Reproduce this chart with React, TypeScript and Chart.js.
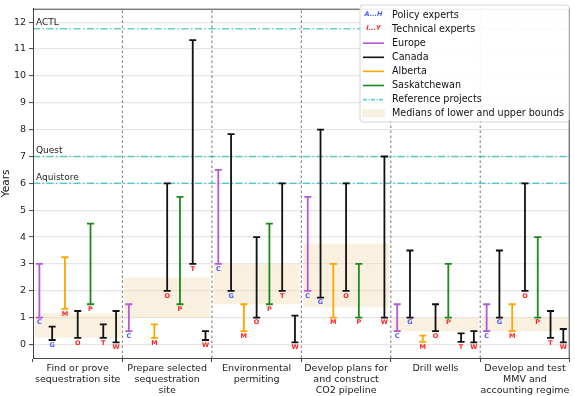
import React, { useEffect, useRef } from "react";
import { Chart, registerables } from "chart.js";

Chart.register(...registerables);

// ---------- DATA ----------
const categories: string[][] = [
  ["Find or prove", "sequestration site"],
  ["Prepare selected", "sequestration", "site"],
  ["Environmental", "permiting"],
  ["Develop plans for", "and construct", "CO2 pipeline"],
  ["Drill wells"],
  ["Develop and test", "MMV and", "accounting regime"],
];

const expertLetters = ["C", "G", "M", "O", "P", "T", "W"];
const expertRegions = ["Europe", "Canada", "Alberta", "Canada", "Saskatchewan", "Canada", "Canada"];
const expertKinds = ["policy", "policy", "technical", "technical", "technical", "technical", "technical"];

const lowC = [1, 0.5, 3, 2, 0.5, 0.5];
const highC = [3, 1.5, 6.5, 5.5, 1.5, 1.5];
const lowG = [0.17, null, 2, 1.75, 1, 1];
const highG = [0.67, null, 7.83, 8, 3.5, 3.5];
const lowM = [1.33, 0.25, 0.5, 1, 0.1, 0.5];
const highM = [3.25, 0.75, 1.5, 3, 0.33, 1.5];
const lowO = [0.25, 2, 1, 2, 0.5, 2];
const highO = [1.25, 6, 4, 6, 1.5, 6];
const lowP = [1.5, 1.5, 1.5, 1, 1, 1];
const highP = [4.5, 5.5, 4.5, 3, 3, 4];
const lowT = [0.25, 3, 2, null, 0.1, 0.25];
const highT = [0.75, 11.33, 6, null, 0.42, 1.25];
const lowW = [0.08, 0.17, 0.08, 1, 0.08, 0.08];
const highW = [1.25, 0.5, 1.08, 7, 0.5, 0.58];

const medianLow = [0.25, 1, 1.5, 1.375, 0.5, 0.5];
const medianHigh = [1.17, 2.5, 3, 3.75, 1, 1];

const refNames = ["ACTL", "Quest", "Aquistore"];
const refYears = [11.75, 7, 6];

const yTicks = [0, 1, 2, 3, 4, 5, 6, 7, 8, 9, 10, 11, 12];

const lows = [lowC, lowG, lowM, lowO, lowP, lowT, lowW];
const highs = [highC, highG, highM, highO, highP, highT, highW];

// ---------- STYLE ----------
const regionColors: Record<string, string> = {
  Europe: "#b657d4",
  Canada: "#111111",
  Alberta: "#ffa500",
  Saskatchewan: "#1a8a1a",
};
const kindColors: Record<string, string> = { policy: "#4a5cff", technical: "#ff2020" };
const refColor = "rgba(0,180,180,0.62)";
const refDash = [7, 2.5, 1.5, 2.5];
const bandColor = "rgba(240,215,170,0.38)";
const FONT = "DejaVu Sans";

type Bar = { x: number; lo: number; hi: number; letter: string; kind: string; color: string };

function buildBars(): Bar[] {
  const out: Bar[] = [];
  for (let g = 0; g < categories.length; g++) {
    for (let e = 0; e < expertLetters.length; e++) {
      const lo = lows[e][g];
      const hi = highs[e][g];
      if (lo == null || hi == null) continue;
      out.push({
        x: g + (e + 0.5) / expertLetters.length,
        lo,
        hi,
        letter: expertLetters[e],
        kind: expertKinds[e],
        color: regionColors[expertRegions[e]],
      });
    }
  }
  return out;
}

export default function App() {
  const ref = useRef<HTMLCanvasElement | null>(null);

  useEffect(() => {
    document.body.style.margin = "0";
    const canvas = ref.current;
    if (!canvas) return;
    Chart.defaults.font.family = FONT;

    const bars = buildBars();

    const datasets: any[] = [];
    // error bars
    bars.forEach((b) => {
      datasets.push({
        type: "line",
        data: [
          { x: b.x, y: b.lo },
          { x: b.x, y: b.hi },
        ],
        borderColor: b.color,
        borderWidth: 1.8,
        pointStyle: "line",
        pointRadius: 3.5,
        pointBorderWidth: 1.8,
        pointBorderColor: b.color,
        pointHoverRadius: 3.5,
        pointHitRadius: 0,
        order: 0,
      });
    });
    // reference lines
    refYears.forEach((v) => {
      datasets.push({
        type: "line",
        data: [
          { x: 0, y: v },
          { x: categories.length, y: v },
        ],
        borderColor: refColor,
        borderWidth: 1.5,
        borderDash: refDash,
        pointRadius: 0,
        order: 1,
      });
    });
    // category dividers
    for (let k = 1; k < categories.length; k++) {
      datasets.push({
        type: "line",
        data: [
          { x: k, y: -0.5 },
          { x: k, y: 12.5 },
        ],
        borderColor: "#8a8a8a",
        borderWidth: 1.2,
        borderDash: [2.5, 2.5],
        pointRadius: 0,
        order: 2,
      });
    }
    // median bands
    datasets.push({
      type: "bar",
      data: medianLow.map((lo, i) => ({ x: i + 0.5, y: [lo, medianHigh[i]] })),
      backgroundColor: bandColor,
      borderWidth: 0,
      categoryPercentage: 0.96,
      barPercentage: 1,
      order: 3,
    });

    const overlay = {
      id: "overlay",
      afterDatasetsDraw(chart: any) {
        const { ctx, chartArea: a, scales } = chart;
        const xs = scales.x;
        const ys = scales.y;
        ctx.save();
        // expert letters
        ctx.font = `bold 6.5px ${FONT}`;
        ctx.textAlign = "center";
        ctx.textBaseline = "middle";
        bars.forEach((b) => {
          ctx.fillStyle = kindColors[b.kind];
          ctx.fillText(b.letter, xs.getPixelForValue(b.x), ys.getPixelForValue(b.lo) + 5);
        });
        // reference labels
        ctx.font = `9px ${FONT}`;
        ctx.fillStyle = "#222";
        ctx.textAlign = "left";
        ctx.textBaseline = "bottom";
        refNames.forEach((n, i) => {
          ctx.fillText(n, a.left + 3, ys.getPixelForValue(refYears[i]) - 1.5);
        });
        // frame
        ctx.strokeStyle = "#444";
        ctx.lineWidth = 1;
        ctx.strokeRect(a.left + 0.5, a.top + 0.5, a.right - a.left - 1, a.bottom - a.top);

        // legend
        const lx = 360, ly = 5, lw = 209, lh = 117;
        ctx.beginPath();
        const r = 3;
        ctx.moveTo(lx + r, ly);
        ctx.lineTo(lx + lw - r, ly);
        ctx.quadraticCurveTo(lx + lw, ly, lx + lw, ly + r);
        ctx.lineTo(lx + lw, ly + lh - r);
        ctx.quadraticCurveTo(lx + lw, ly + lh, lx + lw - r, ly + lh);
        ctx.lineTo(lx + r, ly + lh);
        ctx.quadraticCurveTo(lx, ly + lh, lx, ly + lh - r);
        ctx.lineTo(lx, ly + r);
        ctx.quadraticCurveTo(lx, ly, lx + r, ly);
        ctx.closePath();
        ctx.fillStyle = "rgba(255,255,255,0.9)";
        ctx.fill();
        ctx.strokeStyle = "#d4d4d4";
        ctx.stroke();

        const items = [
          { label: "Policy experts", kind: "text", text: "A...H", color: kindColors.policy },
          { label: "Technical experts", kind: "text", text: "I...Y", color: kindColors.technical },
          { label: "Europe", kind: "line", color: regionColors.Europe },
          { label: "Canada", kind: "line", color: regionColors.Canada },
          { label: "Alberta", kind: "line", color: regionColors.Alberta },
          { label: "Saskatchewan", kind: "line", color: regionColors.Saskatchewan },
          { label: "Reference projects", kind: "dash", color: refColor },
          { label: "Medians of lower and upper bounds", kind: "band", color: bandColor },
        ];
        items.forEach((it: any, i: number) => {
          const cy = 14.5 + i * 14.1;
          const sx0 = 363, sx1 = 384;
          if (it.kind === "text") {
            ctx.font = `italic bold 6.5px ${FONT}`;
            ctx.fillStyle = it.color;
            ctx.textAlign = "center";
            ctx.textBaseline = "middle";
            ctx.fillText(it.text, (sx0 + sx1) / 2, cy);
          } else if (it.kind === "band") {
            ctx.fillStyle = it.color;
            ctx.fillRect(sx0 - 1, cy - 4, sx1 - sx0 + 2, 8);
          } else {
            ctx.beginPath();
            ctx.strokeStyle = it.color;
            ctx.lineWidth = 1.6;
            ctx.setLineDash(it.kind === "dash" ? [4, 1.5, 1, 1.5] : []);
            ctx.moveTo(sx0, cy + 0.5);
            ctx.lineTo(sx1, cy + 0.5);
            ctx.stroke();
            ctx.setLineDash([]);
          }
          ctx.font = `9.6px ${FONT}`;
          ctx.fillStyle = "#111";
          ctx.textAlign = "left";
          ctx.textBaseline = "middle";
          ctx.fillText(it.label, 392, cy + 0.5);
        });
        ctx.restore();
      },
    };

    const chart = new Chart(canvas, {
      type: "line",
      data: { datasets },
      options: {
        animation: false,
        responsive: false,
        devicePixelRatio: 1,
        events: [],
        layout: { padding: { top: 2, right: 1, left: 0, bottom: 0 } },
        plugins: {
          legend: { display: false },
          tooltip: { enabled: false },
        },
        scales: {
          x: {
            type: "linear",
            min: 0,
            max: categories.length,
            offset: false,
            afterBuildTicks: (scale: any) => {
              scale.ticks = categories.map((_, i) => ({ value: i + 0.5 }));
            },
            afterFit: (scale: any) => {
              scale.height = 38;
            },
            ticks: {
              autoSkip: false,
              maxRotation: 0,
              minRotation: 0,
              padding: 1,
              color: "#222",
              font: { size: 9.5, lineHeight: 1.17 },
              callback: (_v: any, i: number) => categories[i],
            },
            grid: {
              display: true,
              drawOnChartArea: false,
              drawTicks: true,
              tickLength: 4,
              tickColor: "#444",
            },
            border: { display: true, color: "#444", width: 1 },
          },
          y: {
            type: "linear",
            min: -0.5,
            max: 12.5,
            afterBuildTicks: (scale: any) => {
              scale.ticks = yTicks.map((v) => ({ value: v }));
            },
            afterFit: (scale: any) => {
              scale.width = 33;
            },
            ticks: {
              color: "#222",
              padding: 3,
              font: { size: 9.5 },
            },
            grid: {
              color: "#e6e6e6",
              lineWidth: 1.2,
              tickLength: 4,
              tickColor: "#444",
              tickWidth: 1,
            },
            border: { display: true, color: "#444", width: 1 },
            title: {
              display: true,
              text: "Years",
              color: "#111",
              font: { size: 10.5 },
              padding: { top: 0, bottom: 0 },
            },
          },
        },
      } as any,
      plugins: [overlay],
    });

    return () => chart.destroy();
  }, []);

  return (
    <div style={{ width: 575, height: 396 }}>
      <canvas ref={ref} width={575} height={396} style={{ display: "block" }} />
    </div>
  );
}
